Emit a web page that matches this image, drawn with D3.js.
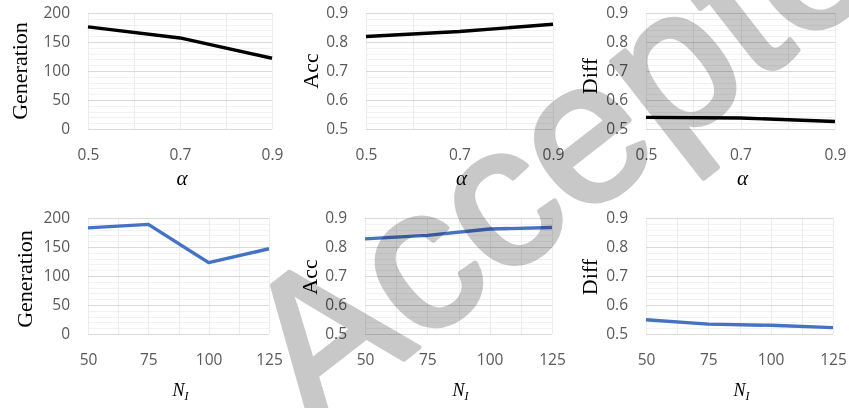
<!DOCTYPE html>
<html>
<head>
<meta charset="utf-8">
<script src="https://cdn.jsdelivr.net/npm/d3@7"></script>
<style>
  body { margin: 0; background: #fff; }
  svg { display: block; }
</style>
</head>
<body>
<svg id="chart" width="849" height="408"></svg>
<script>
// values
var alphaVals = [0.5, 0.7, 0.9];
var alphaGeneration = [176, 157, 122];
var alphaAcc = [0.819, 0.836, 0.861];
var alphaDiff = [0.540, 0.538, 0.526];

var niVals = [50, 75, 100, 125];
var niGeneration = [183, 189, 123, 147];
var niAcc = [0.828, 0.840, 0.862, 0.867];
var niDiff = [0.549, 0.534, 0.530, 0.522];

var alphaTicks = [0.5, 0.7, 0.9];
var niTicks = [50, 75, 100, 125];
var genTicks = [0, 50, 100, 150, 200];
var ratioTicks = [0.5, 0.6, 0.7, 0.8, 0.9];

var svg = d3.select("#chart");

function drawPanel(p) {
    var x = d3.scaleLinear().domain(p.xDomain).range([p.left, p.right]);
    var y = d3.scaleLinear().domain(p.yDomain).range([p.bottom, p.top]);
    var g = svg.append("g");

    // minor + major grid
    var yMinor = d3.range(p.yDomain[0], p.yDomain[1] + p.yMinor / 2, p.yMinor);
    var xMinor = d3.range(p.xDomain[0], p.xDomain[1] + p.xMinor / 2, p.xMinor);
    g.selectAll(".ymin").data(yMinor).enter().append("line")
      .attr("x1", p.left).attr("x2", p.right)
      .attr("y1", function(d) { return Math.round(y(d)) + 0.5; })
      .attr("y2", function(d) { return Math.round(y(d)) + 0.5; })
      .attr("stroke", "#f2f2f2").attr("stroke-width", 1);
    g.selectAll(".xmin").data(xMinor).enter().append("line")
      .attr("y1", p.top).attr("y2", p.bottom)
      .attr("x1", function(d) { return Math.round(x(d)) + 0.5; })
      .attr("x2", function(d) { return Math.round(x(d)) + 0.5; })
      .attr("stroke", "#ececec").attr("stroke-width", 1);
    g.selectAll(".ymaj").data(p.yTicks).enter().append("line")
      .attr("x1", p.left).attr("x2", p.right)
      .attr("y1", function(d) { return Math.round(y(d)) + 0.5; })
      .attr("y2", function(d) { return Math.round(y(d)) + 0.5; })
      .attr("stroke", "#d9d9d9").attr("stroke-width", 1.2);

    // tick labels
    var yAxis = d3.axisLeft(y).tickValues(p.yTicks).tickFormat(d3.format(p.yFormat))
      .tickSize(0).tickPadding(18);
    var ya = g.append("g").attr("transform", "translate(" + p.left + ",0)").call(yAxis);
    var xAxis = d3.axisBottom(x).tickValues(p.xTicks).tickFormat(d3.format(p.xFormat))
      .tickSize(0).tickPadding(20);
    var xa = g.append("g").attr("transform", "translate(0," + p.bottom + ")").call(xAxis);
    [ya, xa].forEach(function(a) {
        a.select(".domain").remove();
        a.selectAll("text")
          .attr("fill", "#595959")
          .attr("font-family", "Open Sans, sans-serif")
          .style("font-size", "15.5px");
    });

    // y title
    g.append("text")
      .attr("transform", "translate(" + p.yTitleX + "," + ((p.top + p.bottom) / 2 + p.yTitleDy) + ") rotate(-90)")
      .attr("text-anchor", "middle")
      .attr("font-family", "Liberation Serif, serif")
      .style("font-size", "22px")
      .attr("fill", "black")
      .text(p.yLabel);

    // x title
    var t = g.append("text")
      .attr("x", (p.left + p.right) / 2 + 2)
      .attr("text-anchor", "middle")
      .attr("font-family", "Liberation Serif, serif")
      .attr("font-style", "italic")
      .attr("fill", "black");
    if (p.xLabel == "alpha") {
        t.attr("y", p.bottom + 56).style("font-size", "21px").text("\u03b1");
    } else {
        t.attr("y", p.bottom + 62).style("font-size", "18px");
        t.append("tspan").text("N");
        t.append("tspan").attr("dy", 4).style("font-size", "12px").text("I");
    }

    // series line
    var line = d3.line()
      .x(function(d) { return x(d[0]); })
      .y(function(d) { return y(d[1]); });
    g.append("path")
      .datum(d3.zip(p.xs, p.ys))
      .attr("d", line)
      .attr("fill", "none")
      .attr("stroke", p.color)
      .attr("stroke-width", 3.4)
      .attr("stroke-linejoin", "round");
}

var panels = [
    { xs: alphaVals, ys: alphaGeneration, yLabel: "Generation", xLabel: "alpha",
      left: 88, right: 272, top: 13, bottom: 129, yTitleX: 27, yTitleDy: 0 },
    { xs: alphaVals, ys: alphaAcc, yLabel: "Acc", xLabel: "alpha",
      left: 366, right: 553, top: 13, bottom: 129, yTitleX: 318, yTitleDy: 0 },
    { xs: alphaVals, ys: alphaDiff, yLabel: "Diff", xLabel: "alpha",
      left: 646, right: 835, top: 13, bottom: 129, yTitleX: 597, yTitleDy: 5 },
    { xs: niVals, ys: niGeneration, yLabel: "Generation", xLabel: "N",
      left: 88, right: 269, top: 218, bottom: 334, yTitleX: 32, yTitleDy: 3 },
    { xs: niVals, ys: niAcc, yLabel: "Acc", xLabel: "N",
      left: 365, right: 552, top: 218, bottom: 334, yTitleX: 317, yTitleDy: 1 },
    { xs: niVals, ys: niDiff, yLabel: "Diff", xLabel: "N",
      left: 646, right: 833, top: 218, bottom: 334, yTitleX: 597, yTitleDy: 1 }
];

panels.forEach(function(p) {
    var isAlpha = p.xLabel == "alpha";
    var isGen = p.yLabel == "Generation";
    p.xDomain = isAlpha ? [0.5, 0.9] : [50, 125];
    p.xTicks = isAlpha ? alphaTicks : niTicks;
    p.xMinor = isAlpha ? 0.1 : 12.5;
    p.xFormat = isAlpha ? ".1f" : "d";
    p.yDomain = isGen ? [0, 200] : [0.5, 0.9];
    p.yTicks = isGen ? genTicks : ratioTicks;
    p.yMinor = isGen ? 10 : 0.02;
    p.yFormat = isGen ? "d" : ".1f";
    p.color = isAlpha ? "#000000" : "#4472c4";
    drawPanel(p);
});

// grey stamp over the figure
svg.append("text")
  .attr("transform", "translate(313,430) rotate(-38)")
  .attr("font-family", "Liberation Sans, Arial, sans-serif")
  .style("font-size", "202px")
  .style("mix-blend-mode", "multiply")
  .attr("fill", "#c8c8c8")
  .attr("stroke", "#c8c8c8")
  .attr("stroke-width", 5)
  .attr("stroke-linejoin", "round")
  .text("Accepted");
</script>
</body>
</html>
